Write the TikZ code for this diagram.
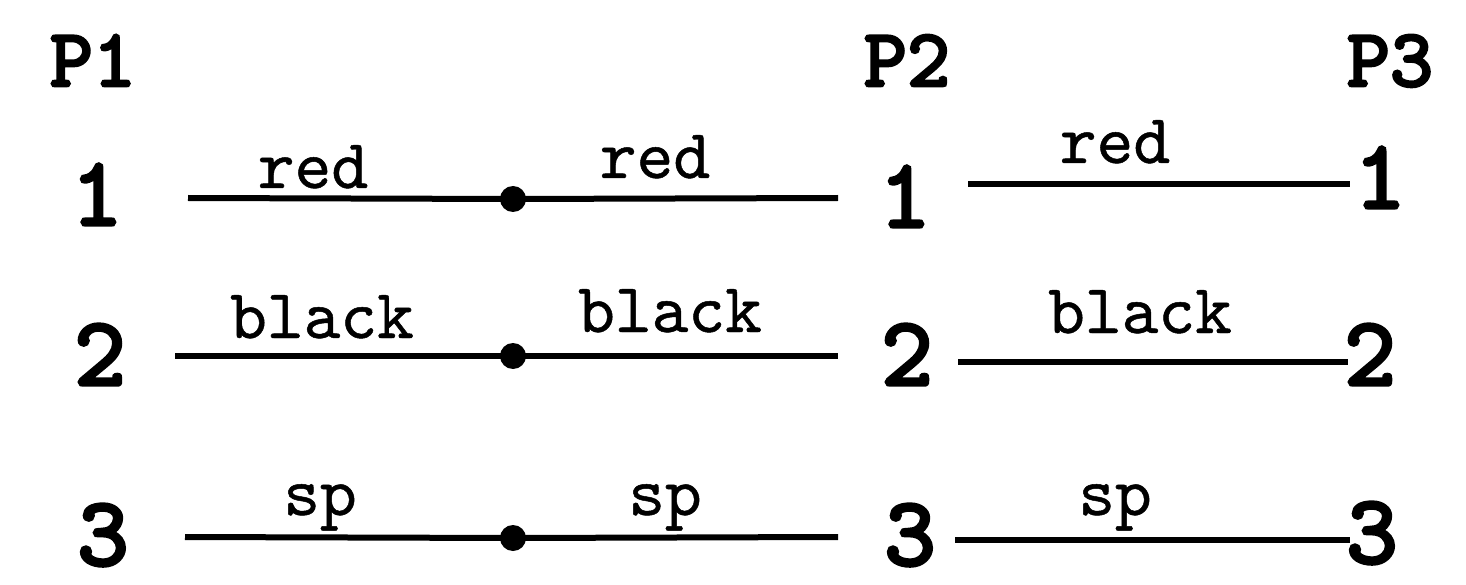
\documentclass[tikz,border=0pt]{standalone}
\usepackage{fontspec}
\newfontfamily\numfont{lmmono10-regular.otf}[FakeBold=3.5]
\newfontfamily\labfont{lmmono10-regular.otf}[FakeBold=0.7]
\begin{document}
\begin{tikzpicture}[x=1pt,y=-1pt,
  hdr/.style={font=\fontsize{82}{90}\selectfont\numfont, anchor=base, inner sep=0pt},
  num/.style={font=\fontsize{98}{104}\selectfont\numfont, anchor=base, inner sep=0pt},
  lab/.style={font=\fontsize{70}{80}\selectfont\labfont, anchor=base, inner sep=0pt},
  wire/.style={line width=6pt},
  jdot/.style={circle, fill=black, inner sep=0pt, minimum size=26pt}]
\useasboundingbox (0,0) rectangle (1466,585);
% headers
\node[hdr] (P1) at (93,86) {P1};
\node[hdr] (P2) at (907,86) {P2};
\node[hdr] (P3) at (1390,86) {P3};
% row digits
\node[num] (L1) at (97,225) {1};
\node[num] (L2) at (100,385) {2};
\node[num] (L3) at (103,565) {3};
\node[num] (M1) at (905,227) {1};
\node[num] (M2) at (907,385) {2};
\node[num] (M3) at (910,565) {3};
\node[num] (R1) at (1380,208) {1};
\node[num] (R2) at (1370,385) {2};
\node[num] (R3) at (1372,563) {3};
% wire end points
\coordinate (a1) at (188,198); \coordinate (b1) at (838,198);
\coordinate (a2) at (175,356); \coordinate (b2) at (838,356);
\coordinate (a3) at (185,537); \coordinate (b3) at (838,537);
\coordinate (c1) at (968,184); \coordinate (e1) at (1350,184);
\coordinate (c2) at (958,362); \coordinate (e2) at (1348,362);
\coordinate (c3) at (955,540); \coordinate (e3) at (1350,540);
% junction dots
\node[jdot] (d1) at (513,199) {};
\node[jdot] (d2) at (513,356) {};
\node[jdot] (d3) at (513,538) {};
% wires
\draw[wire] (a1) -- (d1.center) -- (b1);
\draw[wire] (a2) -- (d2.center) -- (b2);
\draw[wire] (a3) -- (d3.center) -- (b3);
\draw[wire] (c1) -- (e1);
\draw[wire] (c2) -- (e2);
\draw[wire] (c3) -- (e3);
% wire labels
\node[lab] (t11) at (313,188) {red};
\node[lab] (t12) at (655,178) {red};
\node[lab] (t13) at (1115,163) {red};
\node[lab] (t21) at (322,338) {black};
\node[lab] (t22) at (670,332) {black};
\node[lab] (t23) at (1140,333) {black};
\node[lab] (t31) at (320,515) {sp};
\node[lab] (t32) at (665,515) {sp};
\node[lab] (t33) at (1115,515) {sp};
\end{tikzpicture}
\end{document}
